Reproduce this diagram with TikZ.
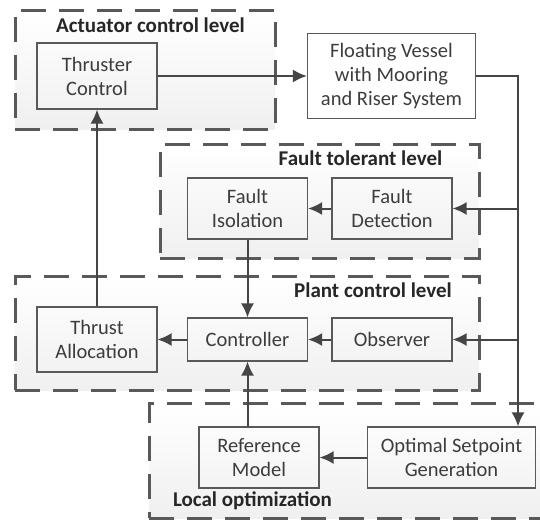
\documentclass[tikz,border=0pt]{standalone}
\usepackage{fontspec}
\setmainfont{Carlito}
\usepackage{tikz}
\usetikzlibrary{arrows.meta}
\definecolor{linegray}{HTML}{454545}
\definecolor{framegray}{HTML}{595959}
\definecolor{textgray}{HTML}{3C3C3C}
\tikzstyle{level} =
[rectangle, draw=framegray, line width=3pt, dash pattern=on 25pt off 13pt,
top color=white, bottom color=black!6]
\tikzstyle{leveltitle} =
[font=\fontsize{21}{24}\selectfont\bfseries, text=black!85, inner sep=0pt]
\tikzstyle{block} =
[rectangle, minimum width = 120pt, minimum height = 43pt, text centered,
align=center, draw=framegray, line width=1.1pt, text=textgray]
\tikzstyle{tblock} = [block, minimum height = 61pt]
\tikzstyle{wblock} = [block, minimum width = 168pt, minimum height = 61pt]
\tikzstyle{line} =
[draw, linegray, line width=2pt, -{Latex[length=14pt,width=13pt]}]
\begin{document}
\begin{tikzpicture}[node distance = 144.5pt, auto,
  font=\fontsize{20.5}{24}\selectfont]
  \useasboundingbox (0,0) rectangle (540pt,-522pt);
  % level frames
  \node [level, minimum width=260pt, minimum height=119pt] (actuator)
   at (145pt,-69.5pt) {};
  \node [level, minimum width=319pt, minimum height=114pt] (fault)
   at (319.5pt,-201pt) {};
  \node [level, minimum width=464pt, minimum height=114pt] (plant)
   at (247pt,-333pt) {};
  \node [level, minimum width=420pt, minimum height=115pt] (local)
   at (359pt,-460.5pt) {};
  \node [leveltitle] (actuatortitle) at (150.5pt,-25pt)
   {Actuator control level};
  \node [leveltitle] (faulttitle) at (360.5pt,-158pt)
   {Fault tolerant level};
  \node [leveltitle] (planttitle) at (373pt,-290pt)
   {Plant control level};
  \node [leveltitle] (localtitle) at (252.5pt,-501pt)
   {Local optimization};
  %
  % blocks
  \node [block, minimum height=66pt] (thruster) at (97pt,-76pt)
   {Thruster\\Control};
  \node [wblock, right of=thruster, node distance=294.5pt,
   minimum height=85pt] (vessel)
   {Floating Vessel\\with Mooring\\and Riser System};
  \node [block, below of=thruster, node distance=263.5pt,
   minimum height=65pt] (alloc) {Thrust\\Allocation};
  \node [block, right of=alloc, node distance=150.5pt] (ctrl) {Controller};
  \node [block, right of=ctrl] (obs) {Observer};
  \node [tblock, above of=ctrl, node distance=131pt] (fiso)
   {Fault\\Isolation};
  \node [tblock, right of=fiso] (fdet) {Fault\\Detection};
  \node [tblock, below of=ctrl, node distance=118pt,
   shift=(right:11.5pt)] (refm) {Reference\\Model};
  \node [wblock, right of=refm, node distance=192.5pt] (osg)
   {Optimal Setpoint\\Generation};
  \coordinate [right of=vessel, node distance=126.5pt] (tap);
  %
  % connections
  \path [line] (thruster) -- (vessel);
  \path [line] (vessel) -| (tap |- osg.north);
  \path [line] (tap |- fdet) -- (fdet);
  \path [line] (tap |- obs) -- (obs);
  \path [line] (fdet) -- (fiso);
  \path [line] (fiso) -- (ctrl);
  \path [line] (obs) -- (ctrl);
  \path [line] (ctrl) -- (alloc);
  \path [line] (alloc) -- (thruster);
  \path [line] (osg) -- (refm);
  \path [line] (refm.north -| ctrl) -- (ctrl);
\end{tikzpicture}
\end{document}
